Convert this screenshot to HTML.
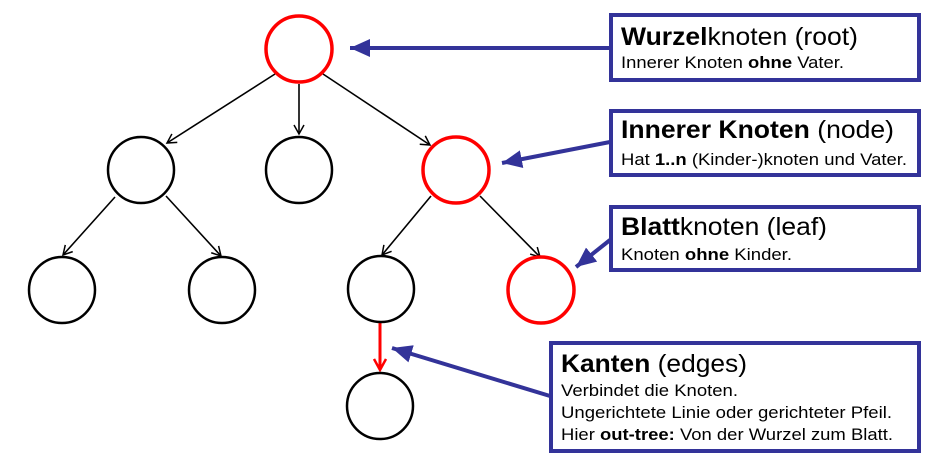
<!DOCTYPE html>
<html><head><style>
html,body{margin:0;padding:0;background:#fff;}
</style></head><body>
<svg width="928" height="468" xmlns="http://www.w3.org/2000/svg" font-family="Liberation Sans, Arial, sans-serif">
<defs>
<marker id="a" markerWidth="12" markerHeight="12" refX="10" refY="6" orient="auto" markerUnits="userSpaceOnUse">
<path d="M1,1 L10,6 L1,11" fill="none" stroke="#000" stroke-width="1.5"/></marker>
<marker id="r" markerWidth="14" markerHeight="14" refX="12" refY="7" orient="auto" markerUnits="userSpaceOnUse">
<path d="M1,1 L12,7 L1,13" fill="none" stroke="#f00" stroke-width="2.5"/></marker>
<marker id="b" markerWidth="22" markerHeight="22" refX="20" refY="9" orient="auto" markerUnits="userSpaceOnUse">
<path d="M0,0 L20,9 L0,18 Z" fill="#333399"/></marker>
</defs>
<g fill="none" stroke="#000" stroke-width="1.6">
<line x1="275" y1="74" x2="167" y2="143" marker-end="url(#a)"/>
<line x1="299" y1="84" x2="299" y2="134" marker-end="url(#a)"/>
<line x1="323" y1="74" x2="430" y2="145" marker-end="url(#a)"/>
<line x1="115" y1="197" x2="63" y2="255" marker-end="url(#a)"/>
<line x1="166" y1="196" x2="221" y2="256" marker-end="url(#a)"/>
<line x1="431" y1="196" x2="382" y2="255" marker-end="url(#a)"/>
<line x1="480" y1="196" x2="540" y2="257" marker-end="url(#a)"/>
</g>
<line x1="380" y1="323" x2="380" y2="370" stroke="#f00" stroke-width="3" marker-end="url(#r)"/>
<g fill="none" stroke-width="2.5" stroke="#000">
<circle cx="299" cy="49" r="33" stroke="#f00" stroke-width="3.5"/>
<circle cx="141" cy="170" r="33"/>
<circle cx="299" cy="170" r="33"/>
<circle cx="456" cy="170" r="33" stroke="#f00" stroke-width="3.5"/>
<circle cx="62" cy="290" r="33"/>
<circle cx="222" cy="290" r="33"/>
<circle cx="381" cy="289" r="33"/>
<circle cx="541" cy="290" r="33" stroke="#f00" stroke-width="3.5"/>
<circle cx="380" cy="406" r="33"/>
</g>
<g stroke="#333399" stroke-width="4" fill="none">
<line x1="610" y1="48" x2="350" y2="48" marker-end="url(#b)"/>
<line x1="610" y1="142" x2="502" y2="163" marker-end="url(#b)"/>
<line x1="610" y1="240" x2="576" y2="267" marker-end="url(#b)"/>
<line x1="550" y1="396" x2="392" y2="348" marker-end="url(#b)"/>
<rect x="611" y="15" width="308" height="65" fill="#fff"/>
<rect x="611" y="111" width="308" height="64" fill="#fff"/>
<rect x="611" y="207" width="308" height="63" fill="#fff"/>
<rect x="551" y="343" width="368" height="108" fill="#fff"/>
</g>
<g fill="#000" lengthAdjust="spacingAndGlyphs">
<text x="621" y="45" font-size="25" textLength="237" lengthAdjust="spacingAndGlyphs"><tspan font-weight="bold">Wurzel</tspan>knoten (root)</text>
<text x="621" y="68" font-size="17" textLength="223" lengthAdjust="spacingAndGlyphs">Innerer Knoten <tspan font-weight="bold">ohne</tspan> Vater.</text>
<text x="621" y="138" font-size="25" textLength="273" lengthAdjust="spacingAndGlyphs"><tspan font-weight="bold">Innerer Knoten</tspan> (node)</text>
<text x="621" y="165" font-size="17" textLength="286" lengthAdjust="spacingAndGlyphs">Hat <tspan font-weight="bold">1..n</tspan> (Kinder-)knoten und Vater.</text>
<text x="621" y="235" font-size="25" textLength="206" lengthAdjust="spacingAndGlyphs"><tspan font-weight="bold">Blatt</tspan>knoten (leaf)</text>
<text x="621" y="260" font-size="17" textLength="171" lengthAdjust="spacingAndGlyphs">Knoten <tspan font-weight="bold">ohne</tspan> Kinder.</text>
<text x="561" y="372" font-size="25" textLength="186" lengthAdjust="spacingAndGlyphs"><tspan font-weight="bold">Kanten</tspan> (edges)</text>
<text x="561" y="396" font-size="17" textLength="177" lengthAdjust="spacingAndGlyphs">Verbindet die Knoten.</text>
<text x="561" y="418" font-size="17" textLength="331" lengthAdjust="spacingAndGlyphs">Ungerichtete Linie oder gerichteter Pfeil.</text>
<text x="561" y="440" font-size="17" textLength="332" lengthAdjust="spacingAndGlyphs">Hier <tspan font-weight="bold">out-tree:</tspan> Von der Wurzel zum Blatt.</text>
</g>
</svg>
</body></html>
